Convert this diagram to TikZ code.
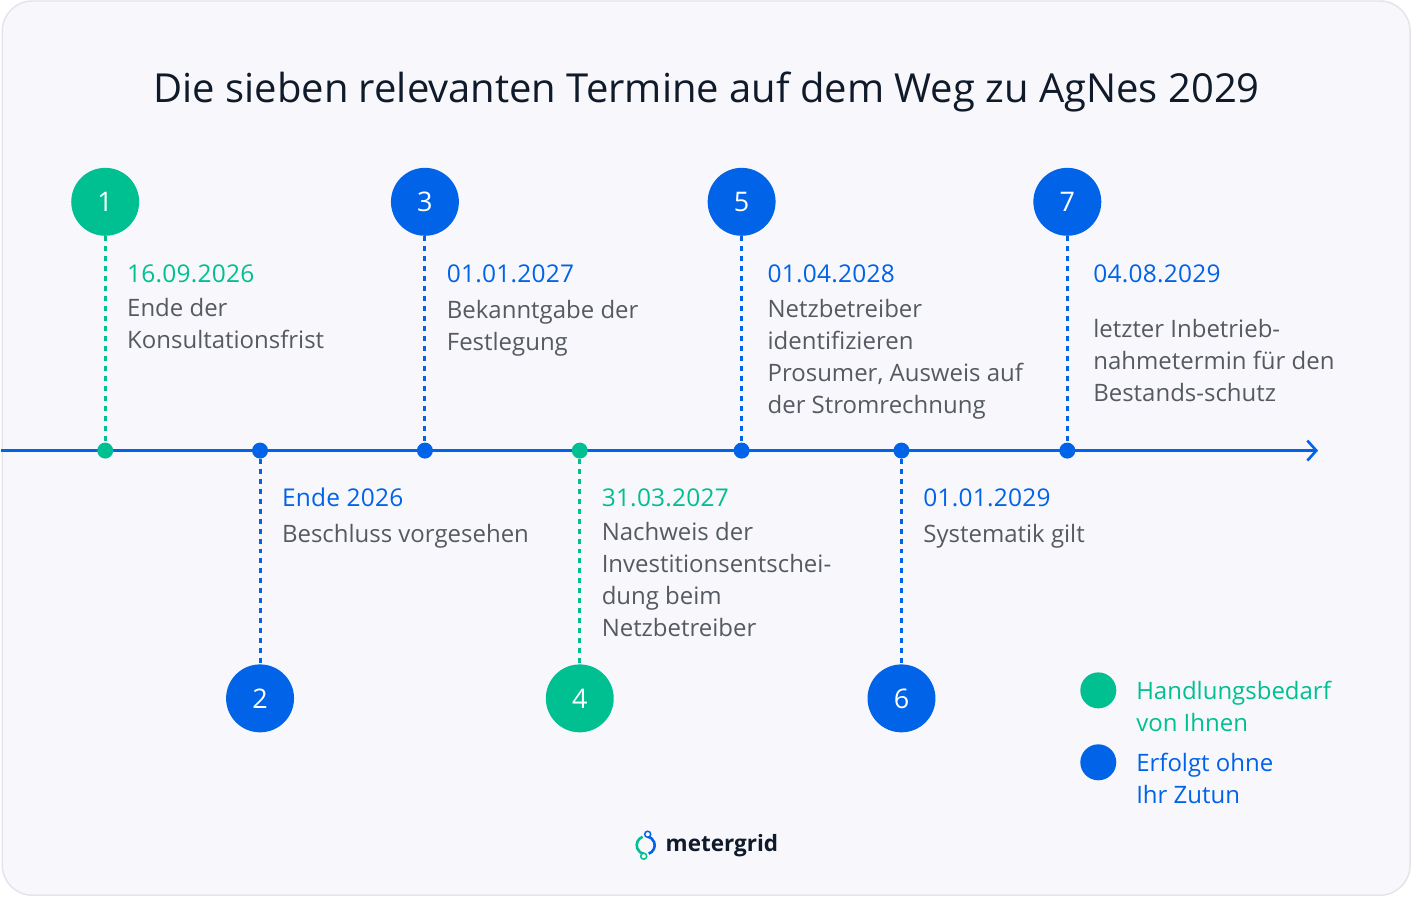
\documentclass[tikz,border=0pt]{standalone}
\usepackage{fontspec}
\setmainfont{Open Sans}
\usetikzlibrary{arrows.meta}
\definecolor{grn}{HTML}{00BF91}
\definecolor{blu}{HTML}{0063E8}
\definecolor{txt}{HTML}{555A62}
\definecolor{ttl}{HTML}{0F1A2A}
\begin{document}
\begin{tikzpicture}[x=1pt,y=-1pt]
\tikzset{ >=Latex, inner sep=0pt, outer sep=0pt,
  num/.style={circle, minimum size=68pt, text=white, font=\fontsize{27}{27}\selectfont},
  dot/.style={circle, minimum size=16pt},
  date/.style={anchor=west, font=\fontsize{24.5}{24.5}\selectfont\addfontfeature{LetterSpace=1}},
  note/.style={anchor=north west, align=left, text=txt, font=\fontsize{24}{32}\selectfont},
  stem/.style={line width=3pt, dash pattern=on 5pt off 5pt},
}

\fill[white] (0,0) rectangle (1411,897);
\draw[fill={rgb,255:red,248;green,248;blue,252}, draw={rgb,255:red,228;green,228;blue,234}, line width=1.5pt, rounded corners=30pt] (1,1) rectangle (1410,896);

\node[text=ttl, font=\fontsize{40}{40}\selectfont] (title) at (706,92) {Die sieben relevanten Termine auf dem Weg zu AgNes 2029};

% timeline
\coordinate (L) at (0,451);
\coordinate (R) at (1318,451);
\draw[blu, line width=2.6pt, -{Straight Barb[length=9pt,width=20pt,line width=2.6pt]}] (L) -- (R);

% upper milestones
\foreach \n/\x/\c in {1/104/grn, 3/424/blu, 5/741/blu, 7/1067/blu} {
  \node[num, fill=\c] (N\n) at (\x,202) {\n};
  \node[dot, fill=\c] (D\n) at (\x,451) {};
  \draw[stem, \c] (N\n) -- (D\n);
}
% lower milestones
\foreach \n/\x/\c in {2/259/blu, 4/579/grn, 6/901/blu} {
  \node[num, fill=\c] (N\n) at (\x,699) {\n};
  \node[dot, fill=\c] (D\n) at (\x,451) {};
  \draw[stem, \c] (D\n) -- (N\n);
}

\node[date, text=grn] at (126,274) {16.09.2026};
\node[note] at (126,299) {Ende der\\Konsultationsfrist};
\node[date, text=blu] at (446,274) {01.01.2027};
\node[note] at (446,301) {Bekanntgabe der\\Festlegung};
\node[date, text=blu] at (767,274) {01.04.2028};
\node[note] at (767,300) {Netzbetreiber\\identifizieren\\Prosumer, Ausweis auf\\der Stromrechnung};
\node[date, text=blu] at (1093,274) {04.08.2029};
\node[note] at (1093,320) {letzter Inbetrieb-\\nahmetermin für den\\Bestands-schutz};

\node[date, text=blu] at (281,498) {Ende 2026};
\node[note] at (281,525) {Beschluss vorgesehen};
\node[date, text=grn] at (601,498) {31.03.2027};
\node[note] at (601,523) {Nachweis der\\Investitionsentschei-\\dung beim\\Netzbetreiber};
\node[date, text=blu] at (923,498) {01.01.2029};
\node[note] at (923,525) {Systematik gilt};

% legend
\node[circle, minimum size=36pt, fill=grn] (LA) at (1098,691) {};
\node[anchor=north west, align=left, text=grn, font=\fontsize{24}{32}\selectfont] at (1136,682) {Handlungsbedarf\\von Ihnen};
\node[circle, minimum size=36pt, fill=blu] (LB) at (1098,763) {};
\node[anchor=north west, align=left, text=blu, font=\fontsize{24}{32}\selectfont] at (1136,754) {Erfolgt ohne\\Ihr Zutun};

% logo
\draw[grn, line width=2.6pt] (645,846) ++(250:9) arc (250:100:9);
\draw[blu, line width=2.6pt] (645,846) ++(70:9) arc (70:-80:9);
\node[circle, draw=blu, fill=white, line width=1.5pt, minimum size=6pt] at (647,835) {};
\node[circle, draw=grn, fill=white, line width=1.5pt, minimum size=6pt] at (643,857) {};
\node[anchor=west, text=ttl, font=\fontsize{22.5}{22.5}\selectfont\bfseries] (logo) at (665,846) {metergrid};
\end{tikzpicture}
\end{document}
